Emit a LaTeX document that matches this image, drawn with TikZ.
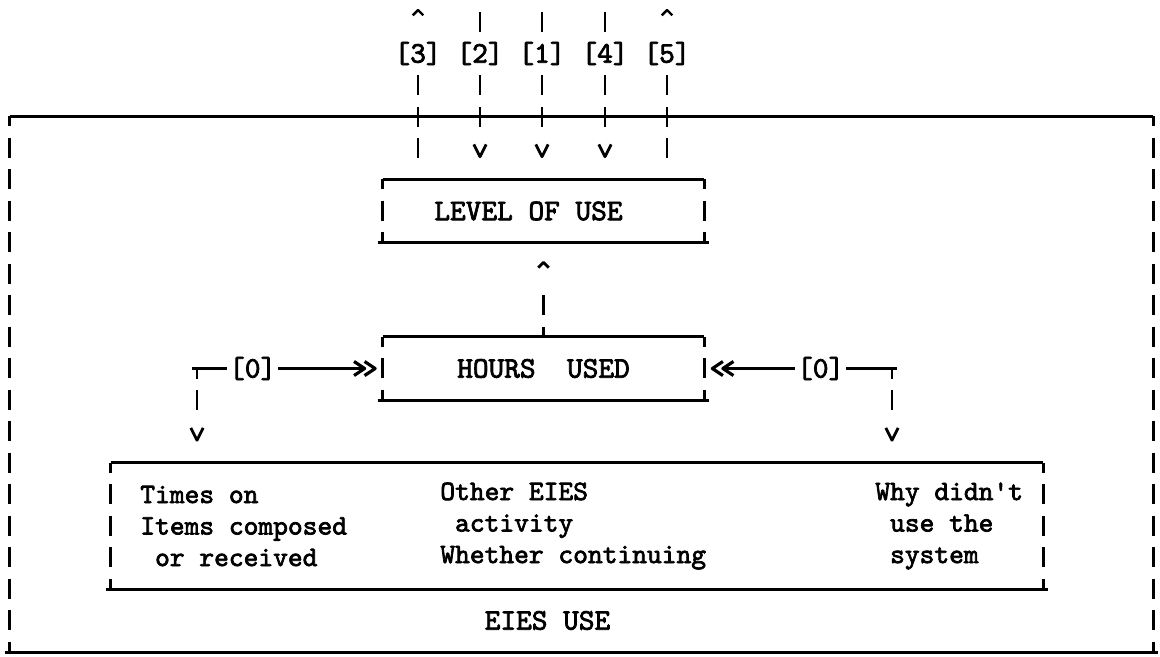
\documentclass[tikz,border=0pt]{standalone}
\usepackage{fontspec}
\usetikzlibrary{arrows.meta}
\newfontfamily\typer[FakeBold=2.5]{lmmono10-regular.otf}

% typewriter arrow head: open "v", shaft stops at inset
\pgfdeclarearrow{
  name = TVee,
  parameters = {\the\pgfarrowlength,\the\pgfarrowwidth,\the\pgfarrowinset},
  defaults = {length=5pt, width=6pt, inset=5pt},
  setup code = {
    \pgfarrowssettipend{0pt}
    \pgfarrowssetbackend{-\pgfarrowlength}
    \pgfarrowssetlineend{-\pgfarrowinset}
    \pgfarrowssavethe\pgfarrowlength
    \pgfarrowssavethe\pgfarrowwidth
    \pgfarrowssavethe\pgfarrowinset
  },
  drawing code = {
    \pgfsetdash{}{0pt}
    \pgfsetroundjoin
    \pgfpathmoveto{\pgfqpoint{-\pgfarrowlength}{.5\pgfarrowwidth}}
    \pgfpathlineto{\pgfpointorigin}
    \pgfpathlineto{\pgfqpoint{-\pgfarrowlength}{-.5\pgfarrowwidth}}
    \pgfusepathqstroke
  }
}

\begin{document}
\begin{tikzpicture}[
    font=\typer\fontsize{17}{17.93}\selectfont,
    >={TVee[length=6pt,width=8pt,inset=6pt]},
    hline/.style={line width=1.8pt, shorten <=-0.1cm, shorten >=-0.1cm},
    link/.style={line width=1.8pt},
    vline/.style={line width=1.6pt, dash pattern=on 0.40cm off 0.23cm, dash phase=0.20cm},
    vhalf/.style={line width=1.6pt, dash pattern=on 0.40cm off 0.23cm, dash phase=0.515cm},
    downtip/.style={-{TVee[length=7pt,width=7pt,inset=11.5pt]}, shorten >=0.45cm},
    uptip/.style={-{TVee[length=3pt,width=6pt,inset=13pt]}},
    caponly/.style={line width=1.4pt, dash pattern=on 0pt off 5cm},
    tbox/.style={inner sep=0pt},
    lab/.style={inner sep=0pt, minimum height=0.63cm},
    zero/.style={fill=white, inner xsep=1pt, inner ysep=0pt},
    txt/.style={align=left, anchor=west, inner sep=0pt,
                font=\typer\fontsize{16}{17.93}\selectfont},
]
\useasboundingbox (0,0) rectangle (23.2,-13.12);

%% -- boxes ----------------------------------------------------
\node[tbox, minimum width=22.86cm, minimum height=10.71cm] (outer) at (11.63,-7.685) {};
\node[tbox, minimum width=6.42cm,  minimum height=1.26cm]  (lvl)   at (10.87,-4.22)  {};
\node[tbox, minimum width=6.42cm,  minimum height=1.26cm]  (hrs)   at (10.87,-7.37)  {HOURS~~USED};
\node[tbox, minimum width=18.64cm, minimum height=2.52cm]  (eies)  at (11.54,-10.52) {};
\node (lvltext) at (10.57,-4.22) {LEVEL OF USE};

\draw[hline] (outer.north west) -- (outer.north east) (outer.south west) -- (outer.south east);
\draw[vline] (outer.north west) -- (outer.south west) (outer.north east) -- (outer.south east);
\draw[hline] (lvl.north west) -- (lvl.north east) (lvl.south west) -- (lvl.south east);
\draw[vline] (lvl.north west) -- (lvl.south west) (lvl.north east) -- (lvl.south east);
\draw[hline] (hrs.north west) -- (hrs.north east) (hrs.south west) -- (hrs.south east);
\draw[vline] (hrs.north west) -- (hrs.south west) (hrs.north east) -- (hrs.south east);
\draw[hline] (eies.north west) -- (eies.north east) (eies.south west) -- (eies.south east);
\draw[vline] (eies.north west) -- (eies.south west) (eies.north east) -- (eies.south east);

\node[txt] (times) at (2.80,-10.52)  {Times on\\Items composed\\~or received};
\node[txt] (other) at (8.80,-10.52)  {Other EIES\\~activity\\Whether continuing};
\node[txt] (why)   at (17.50,-10.52) {Why didn\textquotesingle t\\~use the\\~system};
\node (use) at (10.95,-12.41) {EIES USE};

%% -- level of use inputs / outputs ----------------------------
\node[lab] (l3) at (8.36,-1.07)  {[3]};
\node[lab] (l2) at (9.60,-1.07)  {[2]};
\node[lab] (l1) at (10.84,-1.07) {[1]};
\node[lab] (l4) at (12.10,-1.07) {[4]};
\node[lab] (l5) at (13.34,-1.07) {[5]};

\coordinate (o3) at (8.36,-0.20);
\coordinate (i2) at (9.60,-0.24);
\coordinate (i1) at (10.84,-0.24);
\coordinate (i4) at (12.10,-0.24);
\coordinate (o5) at (13.34,-0.20);

\draw[caponly,uptip] (l3.north) -- (o3);
\draw[vhalf, shorten >=0.43cm] (l3.south) -- (l3.south |- lvl.north);
\draw[vhalf] (l2.north) -- (i2);
\draw[vhalf,downtip] (l2.south) -- (l2.south |- lvl.north);
\draw[vhalf] (l1.north) -- (i1);
\draw[vhalf,downtip] (l1.south) -- (l1.south |- lvl.north);
\draw[vhalf] (l4.north) -- (i4);
\draw[vhalf,downtip] (l4.south) -- (l4.south |- lvl.north);
\draw[caponly,uptip] (l5.north) -- (o5);
\draw[vhalf, shorten >=0.43cm] (l5.south) -- (l5.south |- lvl.north);

%% -- hours used -----------------------------------------------
\draw[vline,uptip,shorten >=0.39cm] (hrs.north) -- (lvl.south);

\coordinate (jl) at (3.94,-7.37);
\coordinate (jr) at (17.84,-7.37);
\draw[link,->>,shorten <=-0.1cm,shorten >=0.15cm] (jl) -- node[zero,pos=0.3] {[0]} (hrs.west);
\draw[link,->>,shorten <=-0.1cm,shorten >=0.16cm] (jr) -- node[zero,pos=0.38] {[0]} (hrs.east);
\draw[vline,downtip] (jl) -- (jl |- eies.north);
\draw[vline,downtip] (jr) -- (jr |- eies.north);

\end{tikzpicture}
\end{document}
